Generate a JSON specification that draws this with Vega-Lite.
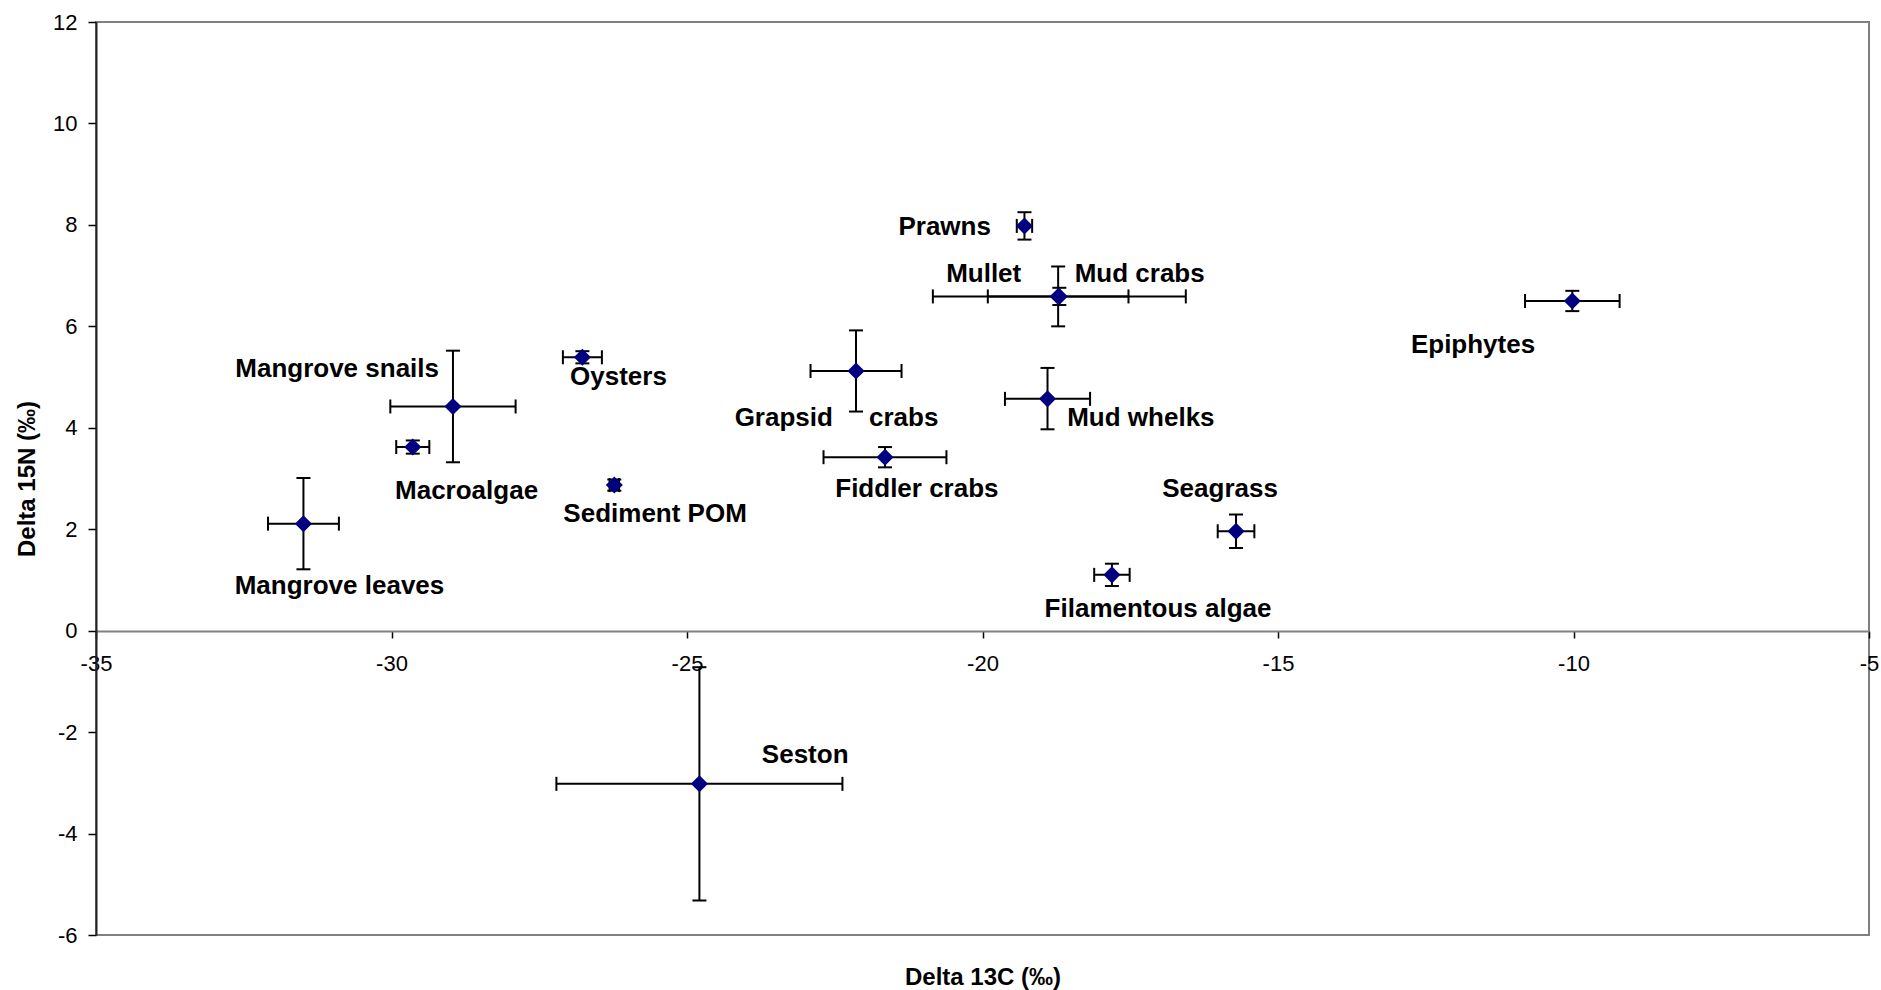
{
  "$schema": "https://vega.github.io/schema/vega-lite/v6.json",
  "width": 1773,
  "height": 913,
  "autosize": {"type": "none"},
  "padding": {"left": 96, "top": 22, "right": 12, "bottom": 55},
  "background": "white",
  "config": {
    "view": {"stroke": "#808080", "strokeWidth": 2},
    "font": "Liberation Sans",
    "axis": {
      "grid": false,
      "labelFont": "Liberation Sans",
      "labelFontSize": 22,
      "labelColor": "black",
      "titleFont": "Liberation Sans",
      "titleFontSize": 24,
      "titleFontWeight": "bold",
      "titleColor": "black",
      "tickColor": "black",
      "tickWidth": 1.5,
      "labelFlush": false,
      "labelOverlap": false,
      "labelBound": false,
      "labelExpr": "'' + datum.value"
    }
  },
  "datasets": {
    "pts": [
      {"name": "Mangrove leaves", "x": -31.49, "y": 2.11, "xlo": -32.09, "xhi": -30.89, "ylo": 1.21, "yhi": 3.01},
      {"name": "Macroalgae", "x": -29.64, "y": 3.62, "xlo": -29.92, "xhi": -29.36, "ylo": 3.49, "yhi": 3.75},
      {"name": "Mangrove snails", "x": -28.96, "y": 4.42, "xlo": -30.02, "xhi": -27.90, "ylo": 3.32, "yhi": 5.52},
      {"name": "Oysters", "x": -26.77, "y": 5.39, "xlo": -27.10, "xhi": -26.44, "ylo": 5.27, "yhi": 5.51},
      {"name": "Sediment POM", "x": -26.23, "y": 2.87, "xlo": -26.31, "xhi": -26.15, "ylo": 2.76, "yhi": 2.98},
      {"name": "Seston", "x": -24.79, "y": -3.02, "xlo": -27.21, "xhi": -22.37, "ylo": -5.32, "yhi": -0.72},
      {"name": "Grapsid crabs", "x": -22.14, "y": 5.12, "xlo": -22.91, "xhi": -21.37, "ylo": 4.32, "yhi": 5.92},
      {"name": "Fiddler crabs", "x": -21.65, "y": 3.42, "xlo": -22.69, "xhi": -20.61, "ylo": 3.22, "yhi": 3.62},
      {"name": "Prawns", "x": -19.29, "y": 7.98, "xlo": -19.42, "xhi": -19.16, "ylo": 7.71, "yhi": 8.25},
      {"name": "Mullet", "x": -18.70, "y": 6.59, "xlo": -20.84, "xhi": -16.56, "ylo": 6.42, "yhi": 6.76},
      {"name": "Mud crabs", "x": -18.72, "y": 6.59, "xlo": -19.91, "xhi": -17.53, "ylo": 6.00, "yhi": 7.18},
      {"name": "Mud whelks", "x": -18.90, "y": 4.57, "xlo": -19.62, "xhi": -18.18, "ylo": 3.97, "yhi": 5.18},
      {"name": "Filamentous algae", "x": -17.81, "y": 1.10, "xlo": -18.11, "xhi": -17.51, "ylo": 0.88, "yhi": 1.32},
      {"name": "Seagrass", "x": -15.71, "y": 1.96, "xlo": -16.02, "xhi": -15.40, "ylo": 1.63, "yhi": 2.29},
      {"name": "Epiphytes", "x": -10.02, "y": 6.50, "xlo": -10.82, "xhi": -9.22, "ylo": 6.30, "yhi": 6.70}
    ],
    "labels": [
      {"label": "Mangrove snails", "lx": -30.92, "ly": 5.0},
      {"label": "Oysters", "lx": -26.16, "ly": 4.84},
      {"label": "Macroalgae", "lx": -28.73, "ly": 2.60},
      {"label": "Sediment POM", "lx": -25.54, "ly": 2.14},
      {"label": "Mangrove leaves", "lx": -30.88, "ly": 0.73},
      {"label": "Seston", "lx": -23.0, "ly": -2.61},
      {"label": "Grapsid\u00a0\u00a0\u00a0\u00a0\u00a0crabs", "lx": -22.47, "ly": 4.04},
      {"label": "Fiddler crabs", "lx": -21.11, "ly": 2.63},
      {"label": "Mud whelks", "lx": -17.32, "ly": 4.04},
      {"label": "Seagrass", "lx": -15.98, "ly": 2.63},
      {"label": "Filamentous algae", "lx": -17.03, "ly": 0.27},
      {"label": "Prawns", "lx": -20.64, "ly": 7.81},
      {"label": "Mullet", "lx": -19.98, "ly": 6.87},
      {"label": "Mud crabs", "lx": -17.34, "ly": 6.87},
      {"label": "Epiphytes", "lx": -11.70, "ly": 5.47}
    ]
  },
  "layer": [
    {
      "data": {"name": "pts"},
      "mark": {"type": "rule", "color": "black", "strokeWidth": 2},
      "encoding": {
        "x": {
          "field": "xlo", "type": "quantitative", "title": "Delta 13C (‰)",
          "scale": {"domain": [-35, -5], "nice": false, "zero": false},
          "axis": {
            "values": [-35, -30, -25, -20, -15, -10, -5],
            "orient": "bottom",
            "offset": -304,
            "domainColor": "#808080",
            "domainWidth": 2,
            "tickSize": 7,
            "labelPadding": 15,
            "titleY": 353,
            "titleBaseline": "alphabetic"
          }
        },
        "x2": {"field": "xhi"},
        "y": {
          "field": "y", "type": "quantitative", "title": "Delta 15N (‰)",
          "scale": {"domain": [-6, 12], "nice": false, "zero": false},
          "axis": {
            "values": [-6, -4, -2, 0, 2, 4, 6, 8, 10, 12],
            "domainColor": "#222222",
            "domainWidth": 2,
            "tickSize": 8,
            "labelPadding": 11,
            "titleX": -69,
            "titleBaseline": "middle",
            "titleAlign": "center"
          }
        }
      }
    },
    {
      "data": {"name": "pts"},
      "mark": {"type": "rule", "color": "black", "strokeWidth": 2},
      "encoding": {
        "x": {"field": "x", "type": "quantitative", "title": "Delta 13C (‰)"},
        "y": {"field": "ylo", "type": "quantitative", "title": "Delta 15N (‰)"},
        "y2": {"field": "yhi"}
      }
    },
    {
      "data": {"name": "pts"},
      "mark": {"type": "tick", "orient": "vertical", "size": 14, "thickness": 2, "color": "black", "opacity": 1},
      "encoding": {
        "x": {"field": "xlo", "type": "quantitative", "title": "Delta 13C (‰)"},
        "y": {"field": "y", "type": "quantitative", "title": "Delta 15N (‰)"}
      }
    },
    {
      "data": {"name": "pts"},
      "mark": {"type": "tick", "orient": "vertical", "size": 14, "thickness": 2, "color": "black", "opacity": 1},
      "encoding": {
        "x": {"field": "xhi", "type": "quantitative", "title": "Delta 13C (‰)"},
        "y": {"field": "y", "type": "quantitative", "title": "Delta 15N (‰)"}
      }
    },
    {
      "data": {"name": "pts"},
      "mark": {"type": "tick", "orient": "horizontal", "size": 14, "thickness": 2, "color": "black", "opacity": 1},
      "encoding": {
        "x": {"field": "x", "type": "quantitative", "title": "Delta 13C (‰)"},
        "y": {"field": "ylo", "type": "quantitative", "title": "Delta 15N (‰)"}
      }
    },
    {
      "data": {"name": "pts"},
      "mark": {"type": "tick", "orient": "horizontal", "size": 14, "thickness": 2, "color": "black", "opacity": 1},
      "encoding": {
        "x": {"field": "x", "type": "quantitative", "title": "Delta 13C (‰)"},
        "y": {"field": "yhi", "type": "quantitative", "title": "Delta 15N (‰)"}
      }
    },
    {
      "data": {"name": "pts"},
      "mark": {"type": "point", "shape": "diamond", "filled": true, "size": 290, "color": "#000080", "opacity": 1},
      "encoding": {
        "x": {"field": "x", "type": "quantitative", "title": "Delta 13C (‰)"},
        "y": {"field": "y", "type": "quantitative", "title": "Delta 15N (‰)"}
      }
    },
    {
      "data": {"name": "labels"},
      "mark": {"type": "text", "font": "Liberation Sans", "fontWeight": "bold", "fontSize": 26, "align": "center", "baseline": "alphabetic", "color": "black"},
      "encoding": {
        "x": {"field": "lx", "type": "quantitative", "title": "Delta 13C (‰)"},
        "y": {"field": "ly", "type": "quantitative", "title": "Delta 15N (‰)"},
        "text": {"field": "label"}
      }
    }
  ]
}
